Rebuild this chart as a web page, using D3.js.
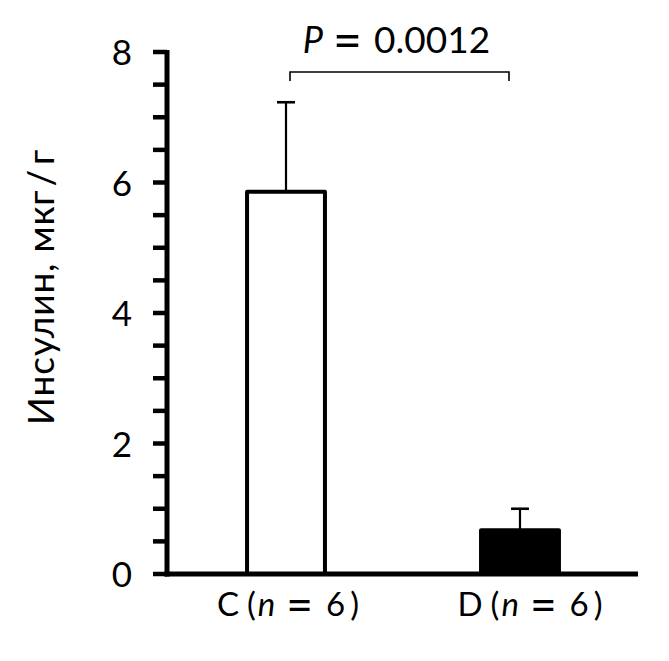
<!DOCTYPE html>
<html><head><meta charset="utf-8">
<script src="https://cdn.jsdelivr.net/npm/d3@7"></script>
<style>body{margin:0;background:#fff}svg{display:block}text{font-family:Lato,"Open Sans",sans-serif;fill:#000}</style>
</head><body>
<svg id="c" width="669" height="661"></svg>
<script>
const categories = ["C", "D"];
const groupSizes = [6, 6];
const means = [5.86, 0.67];
const errors = [1.37, 0.33];
const yTicks = [0, 2, 4, 6, 8];
const yMinorTicks = [0.5, 1, 1.5, 2.5, 3, 3.5, 4.5, 5, 5.5, 6.5, 7, 7.5];
const pLabel = "0.0012";
const yTitle = "Инсулин, мкг/г";

const svg = d3.select("#c");
const x0 = 167, x1 = 638, yTop = 52, yBot = 574;
const y = d3.scaleLinear().domain([0, 8]).range([yBot, yTop]);
const x = d3.scaleBand().domain(categories).range([x0 + 4, 635]).paddingInner(0.667).paddingOuter(0.325);

const g = svg.append("g");

// bars + error bars
means.forEach((m, i) => {
  const c = categories[i];
  const bx = x(c), bw = x.bandwidth(), cx = bx + bw / 2;
  g.append("line").attr("x1", cx).attr("x2", cx).attr("y1", y(m)).attr("y2", y(m + errors[i]))
    .attr("stroke", "#000").attr("stroke-width", 2.2);
  g.append("line").attr("x1", cx - 9).attr("x2", cx + 9).attr("y1", y(m + errors[i])).attr("y2", y(m + errors[i]))
    .attr("stroke", "#000").attr("stroke-width", 2.6);
  g.append("rect").attr("x", bx).attr("y", y(m)).attr("width", bw).attr("height", y(0) - y(m))
    .attr("fill", i === 0 ? "#fff" : "#000").attr("stroke", "#000").attr("stroke-width", 4)
    .attr("stroke-linejoin", "round");
});

// y ticks (major + minor, all same length)
yMinorTicks.concat(yTicks).forEach(t => {
  g.append("line").attr("x1", x0 - 14).attr("x2", x0).attr("y1", y(t)).attr("y2", y(t))
    .attr("stroke", "#000").attr("stroke-width", 4.5);
});
// y tick labels
const yAxis = d3.axisLeft(y).tickValues(yTicks).tickSize(0).tickPadding(0).tickFormat(d3.format("d"));
const ya = svg.append("g").attr("transform", `translate(${x0 - 35},0)`).call(yAxis);
ya.select(".domain").remove();
ya.selectAll("text").attr("font-size", 35).attr("font-family", "Lato, sans-serif").attr("fill", "#000").attr("dy", "0.36em");

// axis lines
g.append("line").attr("x1", x0).attr("x2", x0).attr("y1", yTop - 2).attr("y2", yBot + 2.5).attr("stroke", "#000").attr("stroke-width", 5);
g.append("line").attr("x1", x0 - 2.5).attr("x2", x1).attr("y1", yBot).attr("y2", yBot).attr("stroke", "#000").attr("stroke-width", 5);

// helper to build spaced text
function build(t, parts) {
  parts.forEach(p => {
    const s = t.append("tspan").text(p.t);
    if (p.i) s.attr("font-style", "italic");
    if (p.dx) s.attr("dx", p.dx);
    if (p.dy) s.attr("dy", p.dy);
    if (p.fs) s.attr("font-size", p.fs);
  });
}

// x labels
categories.forEach((c, i) => {
  const t = svg.append("text").attr("x", x(c) + x.bandwidth() / 2 + (i === 1 ? 10 : 2)).attr("y", 616)
    .attr("text-anchor", "middle").attr("font-size", 33);
  build(t, [
    {t: c},
    {t: "(", dx: 8},
    {t: "n", i: true, dx: 2},
    {t: "=", dx: 11, fs: 46, dy: 5},
    {t: String(groupSizes[i]), dx: 13, dy: -5},
    {t: ")", dx: 5}
  ]);
});

// significance bracket
const bxL = x(categories[0]) + x.bandwidth() / 2 + 4, bxR = x(categories[1]) + x.bandwidth() / 2 - 11;
g.append("path").attr("d", `M${bxL},81V72H${bxR}V81`).attr("fill", "none").attr("stroke", "#000").attr("stroke-width", 1.6);
const pt = svg.append("text").attr("x", (bxL + bxR) / 2 - 3).attr("y", 53).attr("text-anchor", "middle").attr("font-size", 36);
build(pt, [
  {t: "P", i: true},
  {t: "=", dx: 10, fs: 50, dy: 5},
  {t: pLabel, dx: 12, dy: -5, fs: 37}
]);

// y title
const yt = svg.append("text").attr("transform", `translate(54,${287}) rotate(-90)`)
  .attr("text-anchor", "middle").attr("font-size", 37).attr("letter-spacing", 0.8);
build(yt, [
  {t: yTitle.split("/")[0]},
  {t: "/", dx: 5},
  {t: yTitle.split("/")[1], dx: 5}
]);
</script>
</body></html>
